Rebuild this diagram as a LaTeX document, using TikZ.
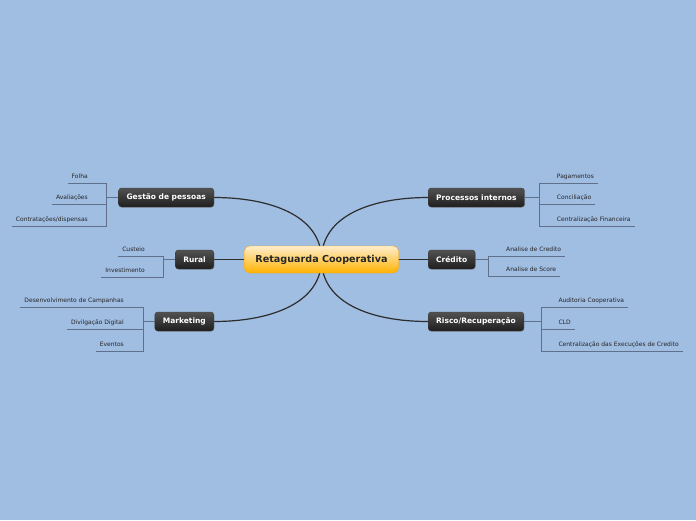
\documentclass[tikz,border=0pt]{standalone}
\usepackage{fontspec}
\setmainfont{DejaVu Sans}
\usepackage{xcolor}
\usepackage{tikz}
\usetikzlibrary{shadows}

\definecolor{skyblue}{RGB}{160,189,226}
\definecolor{twiggray}{RGB}{96,112,138}
\definecolor{trunkgray}{RGB}{45,45,45}

\pgfdeclarelayer{bg}
\pgfdeclarelayer{wires}
\pgfsetlayers{bg,wires,main}

\begin{document}
\begin{tikzpicture}[
  x=1pt, y=-1pt,
  core/.style={rounded corners=5pt, top color=yellow!30!orange!20!white,
               bottom color=orange!60!yellow, draw=orange!70!yellow,
               font=\fontsize{9.6}{11}\selectfont\bfseries,
               text=black!85, inner xsep=11pt, minimum height=27pt},
  branch/.style={rounded corners=3pt, top color=black!68, bottom color=black!88,
                 draw=black!75, text=white,
                 font=\fontsize{7.5}{9}\selectfont\bfseries,
                 inner xsep=8pt, minimum height=19pt,
                 drop shadow={opacity=0.35, shadow xshift=0.6pt, shadow yshift=-0.8pt}},
  leaf/.style={font=\fontsize{6}{7}\selectfont, text=black!85,
               inner xsep=4pt, inner ysep=3pt,
               text height=4.5pt, text depth=1.5pt},
  trunk/.style={draw=trunkgray, line width=1.2pt},
  twig/.style={draw=twiggray, line width=0.8pt},
]
  \begin{pgfonlayer}{bg}
    \fill[skyblue] (0,0) rectangle (696,520);
  \end{pgfonlayer}
  \useasboundingbox (0,0) rectangle (696,520);

  % centre and branches
  \node[core] (ctr) at (321.5,259.5) {Retaguarda Cooperativa};

  \node[branch, anchor=east] (gp)  at (214,197.5) {Gestão de pessoas};
  \node[branch, anchor=east] (rur) at (214,259.5) {Rural};
  \node[branch, anchor=east] (mkt) at (214,321.5) {Marketing};
  \node[branch, anchor=west] (pi)  at (428,197.5) {Processos internos};
  \node[branch, anchor=west] (cre) at (428,259.5) {Crédito};
  \node[branch, anchor=west] (rr)  at (428,321.5) {Risco/Recuperação};

  \begin{pgfonlayer}{wires}
    \draw[trunk] (ctr.center) .. controls +(0,-44) and +(56,0) .. (gp.east);
    \draw[trunk] (ctr.center) .. controls +(0,44) and +(56,0) .. (mkt.east);
    \draw[trunk] (ctr.center) .. controls +(0,-44) and +(-56,0) .. (pi.west);
    \draw[trunk] (ctr.center) .. controls +(0,44) and +(-56,0) .. (rr.west);
    \draw[trunk] (ctr.center) -- (rur.east);
    \draw[trunk] (ctr.center) -- (cre.east);
  \end{pgfonlayer}

  % bracket joints
  \coordinate (gpj)  at (106,197.5);
  \coordinate (rurj) at (163,259.5);
  \coordinate (mktj) at (143,321.5);
  \coordinate (pij)  at (539,197.5);
  \coordinate (crej) at (488,259.5);
  \coordinate (rrj)  at (541,321.5);

  % leaves, left side
  \node[leaf, anchor=south east] (gp1) at (92,183) {Folha};
  \node[leaf, anchor=south east] (gp2) at (92,204) {Avaliações};
  \node[leaf, anchor=south east] (gp3) at (92,226) {Contratações/dispensas};

  \node[leaf, anchor=south east] (rur1) at (149,256) {Custeio};
  \node[leaf, anchor=south east] (rur2) at (149,277) {Investimento};

  \node[leaf, anchor=south east] (mkt1) at (128,307) {Desenvolvimento de Campanhas};
  \node[leaf, anchor=south east] (mkt2) at (128,329) {Divilgação Digital};
  \node[leaf, anchor=south east] (mkt3) at (128,351) {Eventos};

  % leaves, right side
  \node[leaf, anchor=south west] (pi1) at (552.7,183) {Pagamentos};
  \node[leaf, anchor=south west] (pi2) at (552.7,204) {Conciliação};
  \node[leaf, anchor=south west] (pi3) at (552.7,226) {Centralização Financeira};

  \node[leaf, anchor=south west] (cre1) at (502,256) {Analise de Credito};
  \node[leaf, anchor=south west] (cre2) at (502,276) {Analise de Score};

  \node[leaf, anchor=south west] (rr1) at (554.3,307) {Auditoria Cooperativa};
  \node[leaf, anchor=south west] (rr2) at (554.3,329) {CLD};
  \node[leaf, anchor=south west] (rr3) at (554.3,351) {Centralização das Execuções de Credito};

  % brackets
  \draw[twig] (gp.west) -- (gpj);
  \draw[twig] (gpj) |- (gp1.south west);
  \draw[twig] (gpj) |- (gp2.south west);
  \draw[twig] (gpj) |- (gp3.south west);

  \draw[twig] (rur.west) -- (rurj);
  \draw[twig] (rurj) |- (rur1.south west);
  \draw[twig] (rurj) |- (rur2.south west);

  \draw[twig] (mkt.west) -- (mktj);
  \draw[twig] (mktj) |- (mkt1.south west);
  \draw[twig] (mktj) |- (mkt2.south west);
  \draw[twig] (mktj) |- (mkt3.south west);

  \draw[twig] (pi.east) -- (pij);
  \draw[twig] (pij) |- (pi1.south east);
  \draw[twig] (pij) |- (pi2.south east);
  \draw[twig] (pij) |- (pi3.south east);

  \draw[twig] (cre.east) -- (crej);
  \draw[twig] (crej) |- (cre1.south east);
  \draw[twig] (crej) |- (cre2.south east);

  \draw[twig] (rr.east) -- (rrj);
  \draw[twig] (rrj) |- (rr1.south east);
  \draw[twig] (rrj) |- (rr2.south east);
  \draw[twig] (rrj) |- (rr3.south east);
\end{tikzpicture}
\end{document}
